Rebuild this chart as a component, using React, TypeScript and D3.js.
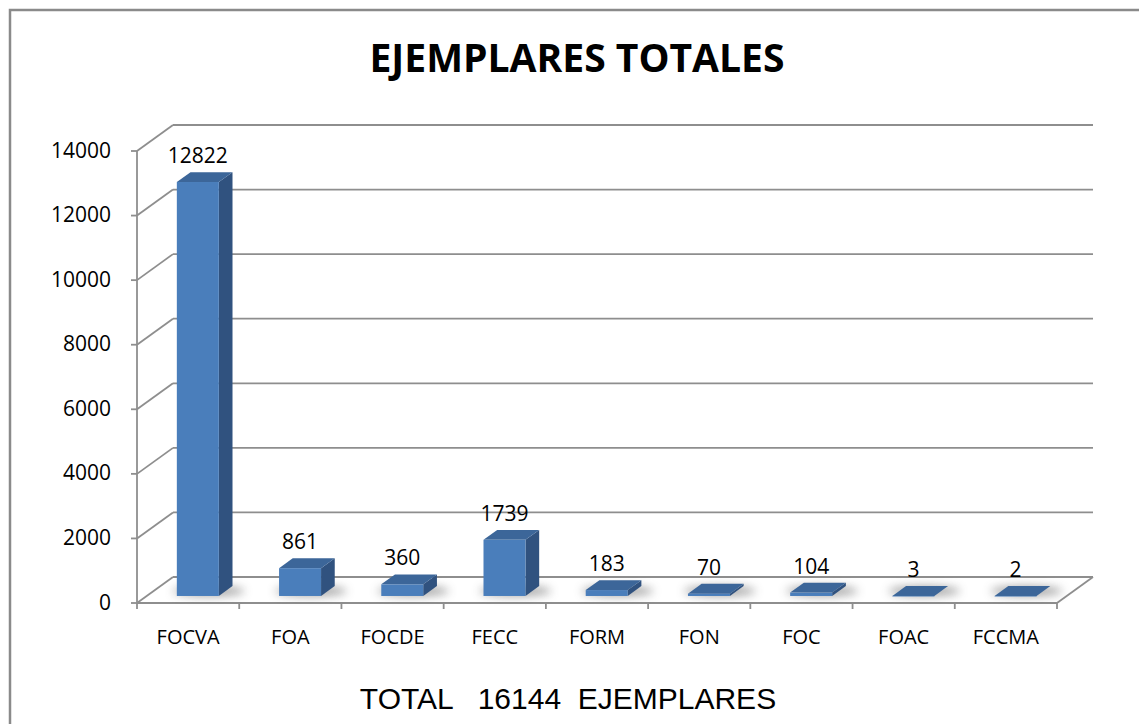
import * as d3 from "d3";

// chart data
const categories = ["FOCVA", "FOA", "FOCDE", "FECC", "FORM", "FON", "FOC", "FOAC", "FCCMA"];
const values = [12822, 861, 360, 1739, 183, 70, 104, 3, 2];
const yTicks = [0, 2000, 4000, 6000, 8000, 10000, 12000, 14000];
const title = "EJEMPLARES TOTALES";
const footer = "TOTAL   16144  EJEMPLARES";

const W = 1139;
const H = 724;

// depth offset of the 3d box (back wall relative to front)
const DX = 36;
const DY = -26;
// bar depth position inside the floor (0 = front, 1 = back)
const ZF = 0.27;
const ZB = 0.65;
const BAR_W = 42;

const GRID = "#8e8e8e";
const FRONT = "#4a7ebb";
const SIDE = "#30527f";
const TOP = "#3c6699";

export default function App() {
  const x = d3.scaleBand<string>().domain(categories).range([137, 1057]).paddingInner(0).paddingOuter(0);
  const y = d3.scaleLinear().domain([0, 14000]).range([603, 151]);

  const left = x.range()[0];
  const right = x.range()[1];

  // project a point (screen x at front, value, depth) to screen coords
  const proj = (px: number, v: number, z: number): [number, number] => [px + DX * z, y(v) + DY * z];
  const pts = (arr: [number, number][]) => arr.map((p) => p.join(",")).join(" ");

  const bars = categories.map((c, i) => {
    const v = values[i];
    const cx = (x(c) as number) + x.bandwidth() / 2;
    const b0 = cx - BAR_W / 2;
    const b1 = cx + BAR_W / 2;
    const fTL = proj(b0, v, ZF);
    const fBR = proj(b1, 0, ZF);
    return {
      c,
      v,
      cx,
      front: { x: fTL[0], y: fTL[1], w: fBR[0] - fTL[0], h: Math.max(fBR[1] - fTL[1], 0.6) },
      side: pts([proj(b1, 0, ZF), proj(b1, v, ZF), proj(b1, v, ZB), proj(b1, 0, ZB)]),
      top: pts([proj(b0, v, ZF), proj(b1, v, ZF), proj(b1, v, ZB), proj(b0, v, ZB)]),
      shadow: proj(cx + 4, 0, (ZF + ZB) / 2),
      label: [fTL[0] + BAR_W / 2, proj(b0, v, ZB)[1] - 9] as [number, number],
    };
  });

  const numFont = "'Open Sans', sans-serif";

  return (
    <svg width={W} height={H} style={{ position: "absolute", left: 0, top: 0, background: "#fff" }}>
      <defs>
        <filter id="blur" x="-50%" y="-200%" width="200%" height="500%">
          <feGaussianBlur stdDeviation="5" />
        </filter>
      </defs>

      {/* outer border, runs off the right and bottom */}
      <rect x={10} y={10} width={1300} height={900} fill="#fff" stroke="#8a8a8a" strokeWidth={2.5} />

      <text
        x={577}
        y={72}
        textAnchor="middle"
        fontFamily={numFont}
        fontWeight="bold"
        fontSize={40}
        textLength={415}
        lengthAdjust="spacingAndGlyphs"
        fill="#000"
      >
        {title}
      </text>

      {/* back wall gridlines + left wall diagonals */}
      {yTicks.map((t) => {
        const a = proj(left, t, 0);
        const b = proj(left, t, 1);
        const e = proj(right, t, 1);
        return (
          <g key={t}>
            <line x1={b[0]} y1={b[1]} x2={e[0]} y2={e[1]} stroke={GRID} strokeWidth={1.8} />
            <line x1={a[0]} y1={a[1]} x2={b[0]} y2={b[1]} stroke={GRID} strokeWidth={1.8} />
            <line x1={a[0] - 6} y1={a[1]} x2={a[0]} y2={a[1]} stroke={GRID} strokeWidth={1.8} />
            <text
              x={111}
              y={a[1] + 1}
              textAnchor="end"
              dominantBaseline="middle"
              fontFamily={numFont}
              fontSize={21}
              fill="#000"
            >
              {t}
            </text>
          </g>
        );
      })}

      {/* vertical axis */}
      <line x1={left} y1={y(0)} x2={left} y2={y(14000)} stroke={GRID} strokeWidth={1.8} />

      {/* floor */}
      <line x1={left} y1={y(0)} x2={right} y2={y(0)} stroke={GRID} strokeWidth={1.8} />
      <line
        x1={proj(right, 0, 0)[0]}
        y1={proj(right, 0, 0)[1]}
        x2={proj(right, 0, 1)[0]}
        y2={proj(right, 0, 1)[1]}
        stroke={GRID}
        strokeWidth={1.8}
      />
      {categories.concat([""]).map((c, i) => {
        const px = left + i * x.step();
        return <line key={"t" + i} x1={px} y1={y(0)} x2={px} y2={y(0) + 6} stroke={GRID} strokeWidth={1.8} />;
      })}

      {/* shadows */}
      {bars.map((b) => (
        <ellipse
          key={"s" + b.c}
          cx={b.shadow[0]}
          cy={b.shadow[1]}
          rx={36}
          ry={5}
          fill="#555"
          opacity={0.55}
          filter="url(#blur)"
        />
      ))}

      {/* bars */}
      {bars.map((b) => (
        <g key={b.c}>
          <polygon points={b.side} fill={SIDE} />
          <polygon points={b.top} fill={TOP} />
          <rect x={b.front.x} y={b.front.y} width={b.front.w} height={b.front.h} fill={FRONT} />
          <text
            x={b.label[0]}
            y={b.label[1]}
            textAnchor="middle"
            fontFamily={numFont}
            fontSize={21}
            fill="#000"
          >
            {b.v}
          </text>
        </g>
      ))}

      {/* category labels */}
      {categories.map((c) => (
        <text
          key={"l" + c}
          x={(x(c) as number) + x.bandwidth() / 2}
          y={644}
          textAnchor="middle"
          fontFamily={numFont}
          fontSize={20}
          fill="#000"
        >
          {c}
        </text>
      ))}

      <text
        x={568}
        y={709}
        textAnchor="middle"
        fontFamily="Arial, 'Liberation Sans', sans-serif"
        fontSize={30}
        fill="#000"
        style={{ whiteSpace: "pre" }}
      >
        {footer}
      </text>
    </svg>
  );
}
